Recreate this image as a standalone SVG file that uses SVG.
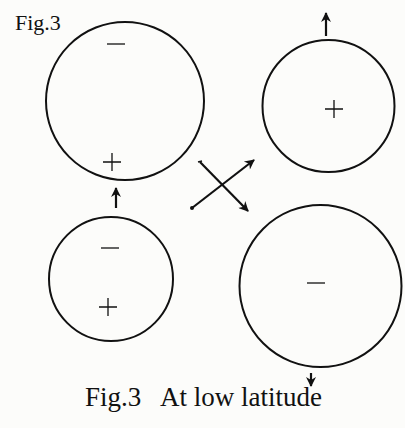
<svg xmlns="http://www.w3.org/2000/svg" width="405" height="428" viewBox="0 0 405 428">
  <style>
    .ring { fill: none; stroke: #111; stroke-width: 2; }
    .sign { fill: none; stroke: #111; stroke-width: 1.3; }
    .arr { fill: none; stroke: #111; stroke-width: 2.2; marker-end: url(#head); }
    .lbl { font-family: "Liberation Serif", "Times New Roman", serif; fill: #111; }
  </style>
  <defs>
    <marker id="head" viewBox="0 0 10 10" refX="9" refY="5" markerWidth="12" markerHeight="10" markerUnits="userSpaceOnUse" orient="auto">
      <path d="M0,0 L10,5 L0,10 L3,5 z" fill="#111"/>
    </marker>
  </defs>
  <rect width="405" height="428" fill="#fcfcfa"/>

  <text class="lbl" x="15" y="30" font-size="22">Fig.3</text>

  <g id="cell-top-left">
    <circle class="ring" cx="125" cy="101" r="79"/>
    <path class="sign" d="M107,44 H125"/>
    <path class="sign" d="M103,162 H121 M112,153 V171"/>
  </g>

  <g id="cell-bottom-left">
    <circle class="ring" cx="111" cy="279" r="62"/>
    <path class="sign" d="M101,248 H119"/>
    <path class="sign" d="M99,307 H117 M108,298 V316"/>
  </g>

  <g id="cell-top-right">
    <circle class="ring" cx="328.5" cy="106" r="66"/>
    <path class="sign" d="M325,109 H343 M334,100 V118"/>
  </g>

  <g id="cell-bottom-right">
    <circle class="ring" cx="320.5" cy="286" r="81"/>
    <path class="sign" d="M307,283 H325"/>
  </g>

  <g id="connectors">
    <path class="arr" d="M116,208 V188"/>
    <path class="arr" d="M326,36 V13"/>
    <path class="arr" d="M311,373 V386"/>
    <path class="arr" d="M192,208 L254,160"/>
    <circle cx="192" cy="208" r="2" fill="#111"/>
    <path class="arr" d="M200,162 L248,211"/>
    <path d="M198,162 L202,161" stroke="#111" stroke-width="1.5"/>
  </g>

  <text class="lbl" y="406" font-size="27"><tspan x="85">Fig.3 </tspan><tspan x="160">At low latitude</tspan></text>
</svg>
